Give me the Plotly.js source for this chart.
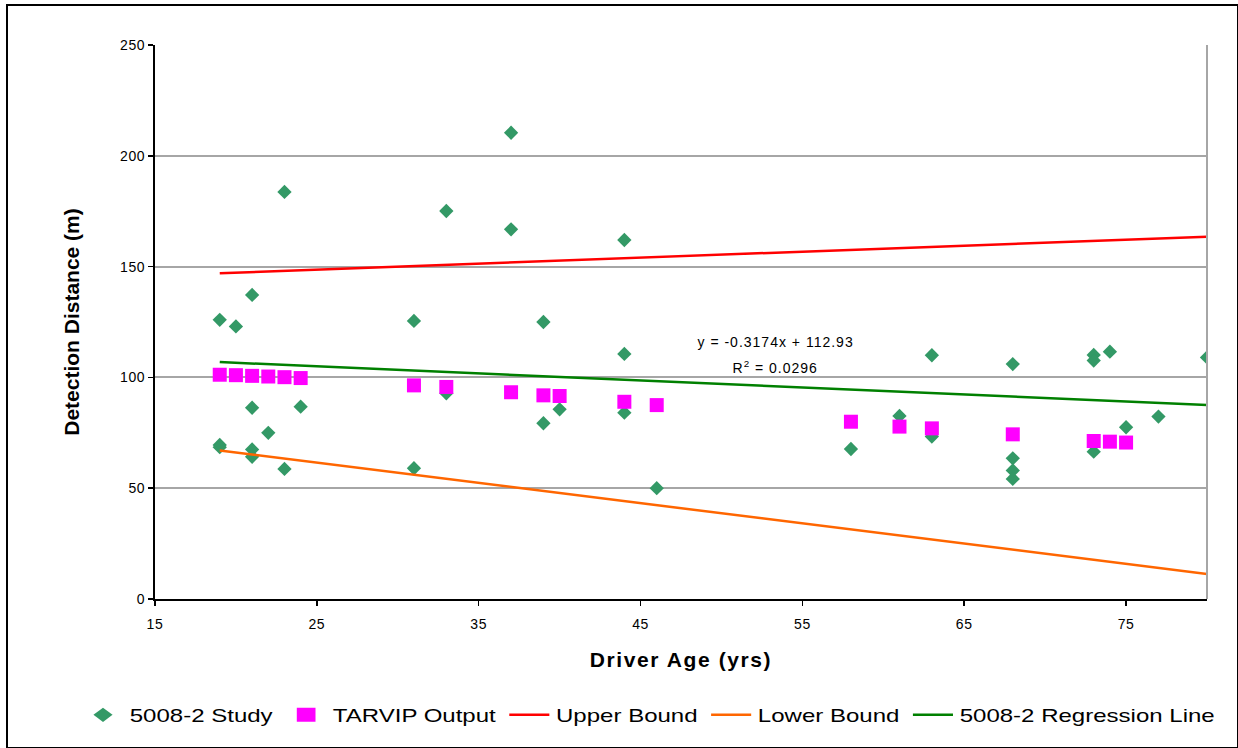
<!DOCTYPE html>
<html>
<head>
<meta charset="utf-8">
<script src="https://cdn.plot.ly/plotly-3.0.1.min.js"></script>
<style>
html,body{margin:0;padding:0;background:#fff;}
#wrap{position:relative;width:1238px;height:748px;}
#chart{position:absolute;left:0;top:0;width:1238px;height:748px;}
#frame{position:absolute;left:6px;top:4px;width:1229px;height:741px;border:2px solid #000;pointer-events:none;}
#chart .xtitle{letter-spacing:1.6px;}
#chart .annotation-text{letter-spacing:1px;}
#chart .xtick text, #chart .ytick text{letter-spacing:0.6px;}
</style>
</head>
<body>
<div id="wrap"><div id="chart"></div><div id="frame"></div></div>
<script>
// 5008-2 Study (driver age, detection distance)
var studyAge = [19,19,19,20,21,21,21,21,22,23,23,24,
                31,31,33,33,37,37,39,39,40,44,44,44,46,
                58,61,63,63,68,68,68,68,73,73,73,74,75,77,80];
var studyDist = [126,69.5,68.5,123,137.2,86.3,67.5,64.2,75,183.7,58.7,86.8,
                 125.5,59,175.1,92.8,210.4,166.8,125,79.3,85.6,162,110.6,84.1,50,
                 67.7,82.6,110,73.3,106,63.5,58,54.2,110.1,107.6,66.5,111.6,77.5,82.3,109];
// TARVIP Output
var tarvipAge = [19,20,21,22,23,24,31,33,37,39,40,44,46,58,61,63,68,73,74,75];
var tarvipDist = [101.2,101.0,100.7,100.4,100.1,99.7,96.4,95.7,93.3,91.9,91.6,89.0,87.5,80.0,77.8,77.0,74.3,71.3,71.0,70.6];
// Bounds and regression line
var lineAge = [19,80];
var upperDist = [147,163.5];
var lowerDist = [67,11.3];
var regSlope = -0.3174, regIntercept = 112.93;
var regDist = lineAge.map(function(a){return regSlope*a + regIntercept;});
var xTicks = [15,25,35,45,55,65,75];
var yTicks = [0,50,100,150,200,250];

var F = 'Liberation Sans, Arial, sans-serif';
var traces = [
  {x:studyAge,y:studyDist,mode:'markers',type:'scatter',name:'5008-2 Study',
   marker:{symbol:'diamond',size:11,color:'#339966'}},
  {x:tarvipAge,y:tarvipDist,mode:'markers',type:'scatter',name:'TARVIP Output',
   marker:{symbol:'square',size:14,color:'#FF00FF'}},
  {x:lineAge,y:upperDist,mode:'lines',type:'scatter',name:'Upper Bound',
   line:{color:'#FF0000',width:2.5}},
  {x:lineAge,y:lowerDist,mode:'lines',type:'scatter',name:'Lower Bound',
   line:{color:'#FF6600',width:2.5}},
  {x:lineAge,y:regDist,mode:'lines',type:'scatter',name:'5008-2 Regression Line',
   line:{color:'#008000',width:2.5}}
];
var layout = {
  width:1238,height:748,
  margin:{l:155,r:31,t:45,b:149},
  paper_bgcolor:'#fff',plot_bgcolor:'#fff',
  font:{family:F,color:'#000',size:14},
  showlegend:true,
  legend:{orientation:'h',xref:'container',yref:'container',x:0.53,y:0.044,
          xanchor:'center',yanchor:'middle',font:{size:18,family:F},
          itemwidth:30,tracegroupgap:0},
  xaxis:{range:[15,80],tickvals:xTicks,ticktext:xTicks.map(String),
         showgrid:false,zeroline:false,showline:true,linecolor:'#000',linewidth:2,
         ticks:'outside',ticklen:5,tickcolor:'#000',tickwidth:1.5,ticklabelstandoff:6,
         tickfont:{size:14,family:F},
         title:{text:'<b>Driver Age (yrs)</b>',font:{size:21,family:F},standoff:22}},
  yaxis:{range:[0,250],tickvals:yTicks,ticktext:yTicks.map(String),
         showgrid:true,gridcolor:'#a6a6a6',gridwidth:2,zeroline:false,
         showline:true,linecolor:'#000',linewidth:2,
         ticks:'outside',ticklen:5,tickcolor:'#000',tickwidth:1.5,
         tickfont:{size:14,family:F},
         title:{text:'<b>Detection Distance (m)</b>',font:{size:21,family:F},standoff:36}},
  shapes:[{type:'line',xref:'paper',yref:'paper',x0:1,x1:1,y0:0,y1:1,
           line:{color:'#a6a6a6',width:2}}],
  annotations:[
    {xref:'paper',yref:'paper',x:(775-155)/1052,y:(599-342)/554,text:'y = -0.3174x + 112.93',
     showarrow:false,font:{size:14,family:F},xanchor:'center',yanchor:'middle'},
    {xref:'paper',yref:'paper',x:(775-155)/1052,y:(599-367)/554,text:'R<sup>2</sup> = 0.0296',
     showarrow:false,font:{size:14,family:F},xanchor:'center',yanchor:'middle'}
  ]
};

function stretchLegend(){
  var g = document.querySelector('#chart g.legend');
  if(!g) return;
  var pts = g.querySelectorAll('.legendpoints');
  var txts = g.querySelectorAll('.legendtext');
  if(!pts.length || !txts.length) return;
  var m = /translate\(\s*([-\d.]+)[ ,]+([-\d.]+)\s*\)/.exec(g.getAttribute('transform')||'');
  var tx = m ? parseFloat(m[1]) : 0, ty = m ? parseFloat(m[2]) : 0;
  var r1 = pts[0].getBoundingClientRect();
  var r2 = txts[txts.length-1].getBoundingClientRect();
  var x1 = (r1.left + r1.right)/2, x2 = r2.right;
  var s = (1215 - 103)/(x2 - x1);
  var ntx = 103 - s*(x1 - tx);
  g.setAttribute('transform','translate('+ntx+','+ty+') scale('+s+',1)');
}
Plotly.newPlot('chart',traces,layout,{displayModeBar:false,staticPlot:true}).then(stretchLegend);
</script>
</body>
</html>
